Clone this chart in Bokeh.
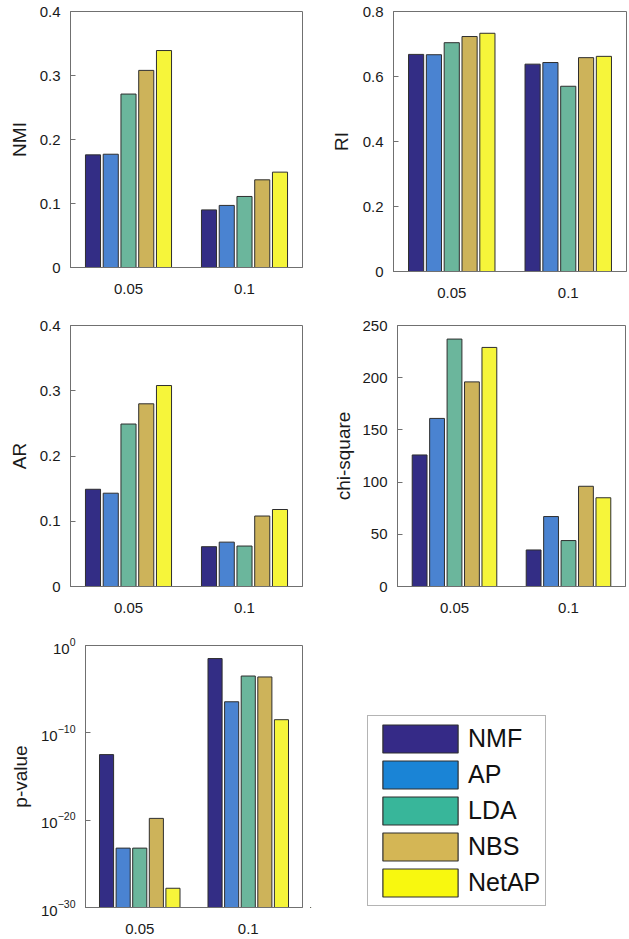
from bokeh.plotting import figure
from bokeh.layouts import column, row
from bokeh.models import (ColumnDataSource, FactorRange, Range1d, FixedTicker, Legend, LegendItem)
from bokeh.transform import dodge
from bokeh.embed import file_html
from bokeh.resources import INLINE

# ---------------- data ----------------
groups = ["0.05", "0.1"]
methods = ["NMF", "AP", "LDA", "NBS", "NetAP"]

# values per method: [0.05, 0.1]
nmi_values = [[0.176, 0.090], [0.177, 0.097], [0.271, 0.111], [0.308, 0.137], [0.339, 0.149]]
ri_values = [[0.668, 0.638], [0.667, 0.643], [0.704, 0.570], [0.723, 0.658], [0.733, 0.662]]
ar_values = [[0.149, 0.061], [0.143, 0.068], [0.249, 0.062], [0.280, 0.108], [0.308, 0.118]]
chi_values = [[126, 35], [161, 67], [237, 44], [196, 96], [229, 85]]
pval_values = [[3.2e-13, 3.2e-02], [6.3e-24, 3.6e-07], [6.3e-24, 3.2e-04], [1.6e-20, 2.5e-04], [1.6e-28, 3.2e-09]]

nmi_ticks = [0, 0.1, 0.2, 0.3, 0.4]
ri_ticks = [0, 0.2, 0.4, 0.6, 0.8]
ar_ticks = [0, 0.1, 0.2, 0.3, 0.4]
chi_ticks = [0, 50, 100, 150, 200, 250]
pval_ticks = [1e-30, 1e-20, 1e-10, 1]

# ---------------- style ----------------
bar_colors = ["#332d85", "#4a83d1", "#6bb69c", "#cdb35a", "#f6f53a"]
legend_colors = ["#352a87", "#1a84d6", "#38b69a", "#d4b655", "#f8f80f"]
offsets = [-0.306, -0.153, 0.0, 0.153, 0.306]
FONT = "Liberation Sans"
AXC = "#707070"
TXT = "#1a1a1a"


def style_axis(ax, tick_in=5):
    ax.axis_line_color = AXC
    ax.major_tick_line_color = AXC
    ax.major_tick_in = tick_in
    ax.major_tick_out = 0
    ax.minor_tick_in = 0
    ax.minor_tick_out = 0
    ax.major_label_text_font = FONT
    ax.major_label_text_font_size = "15px"
    ax.major_label_text_color = TXT
    ax.axis_label_text_font = FONT
    ax.axis_label_text_font_size = "19px"
    ax.axis_label_text_font_style = "normal"
    ax.axis_label_text_color = TXT


def panel(values, label, yr, ticks, fw, fh, left, top, right, bottom, standoff, log=False):
    p = figure(x_range=FactorRange(*groups), y_range=Range1d(*yr),
               y_axis_type="log" if log else "linear",
               frame_width=fw, frame_height=fh,
               min_border_left=left, min_border_top=top,
               min_border_right=right, min_border_bottom=bottom,
               toolbar_location=None, output_backend="svg")
    data = {"group": groups}
    for m, v in zip(methods, values):
        data[m] = v
    src = ColumnDataSource(data)
    base = yr[0]
    for i, m in enumerate(methods):
        p.vbar(x=dodge("group", offsets[i], range=p.x_range), top=m, bottom=base,
               width=0.13, source=src, fill_color=bar_colors[i],
               line_color="#2e2e2e", line_width=1)
    p.xgrid.visible = False
    p.ygrid.visible = False
    p.outline_line_color = AXC
    p.outline_line_width = 1
    p.background_fill_color = "white"
    p.border_fill_color = "white"
    p.yaxis.ticker = FixedTicker(ticks=ticks)
    p.yaxis.axis_label = label
    p.yaxis.axis_label_standoff = standoff
    p.yaxis.major_label_standoff = 10
    p.xaxis.major_label_standoff = 16
    style_axis(p.xaxis[0], tick_in=0)
    style_axis(p.yaxis[0])
    return p


p_nmi = panel(nmi_values, "NMI", (0, 0.4), nmi_ticks, 232, 256, 70, 11, 8, 48, 7)
p_ri = panel(ri_values, "RI", (0, 0.8), ri_ticks, 233, 260, 83, 7, 3, 48, 8)
p_ar = panel(ar_values, "AR", (0, 0.4), ar_ticks, 232, 261, 70, 10, 8, 49, 7)
p_chi = panel(chi_values, "chi-square", (0, 250), chi_ticks, 228, 261, 87, 10, 4, 49, 5)
p_pv = panel(pval_values, "p-value", (1e-30, 1), pval_ticks, 217, 262, 85, 10, 8, 30, 7, log=True)

# ---------------- legend panel ----------------
lf = figure(width=319, height=302, x_range=Range1d(0, 1), y_range=Range1d(0, 1),
            toolbar_location=None, output_backend="svg", min_border=0,
            x_axis_location=None, y_axis_location=None)
lf.xgrid.visible = False
lf.ygrid.visible = False
lf.outline_line_color = None
items = []
for i, m in enumerate(methods):
    # swatch handle only: placed outside the visible range
    r = lf.vbar(x=[-5], top=[-5], bottom=[-6], width=0.1, fill_color=legend_colors[i],
                line_color="#2e2e2e", line_width=1.2)
    items.append(LegendItem(label=m, renderers=[r]))
legend = Legend(items=items, location=(57, 1),
                glyph_width=94, glyph_height=35, label_height=30,
                label_standoff=1, spacing=1, padding=5, margin=0,
                label_text_font=FONT, label_text_font_size="25px", label_text_color="#111111",
                border_line_color="#6a6a6a", border_line_width=1.5,
                background_fill_color="white", background_fill_alpha=1)
lf.add_layout(legend)

layout = column(row(p_nmi, p_ri), row(p_ar, p_chi), row(p_pv, lf))

open("out.html", "w").write(file_html(layout, INLINE))
